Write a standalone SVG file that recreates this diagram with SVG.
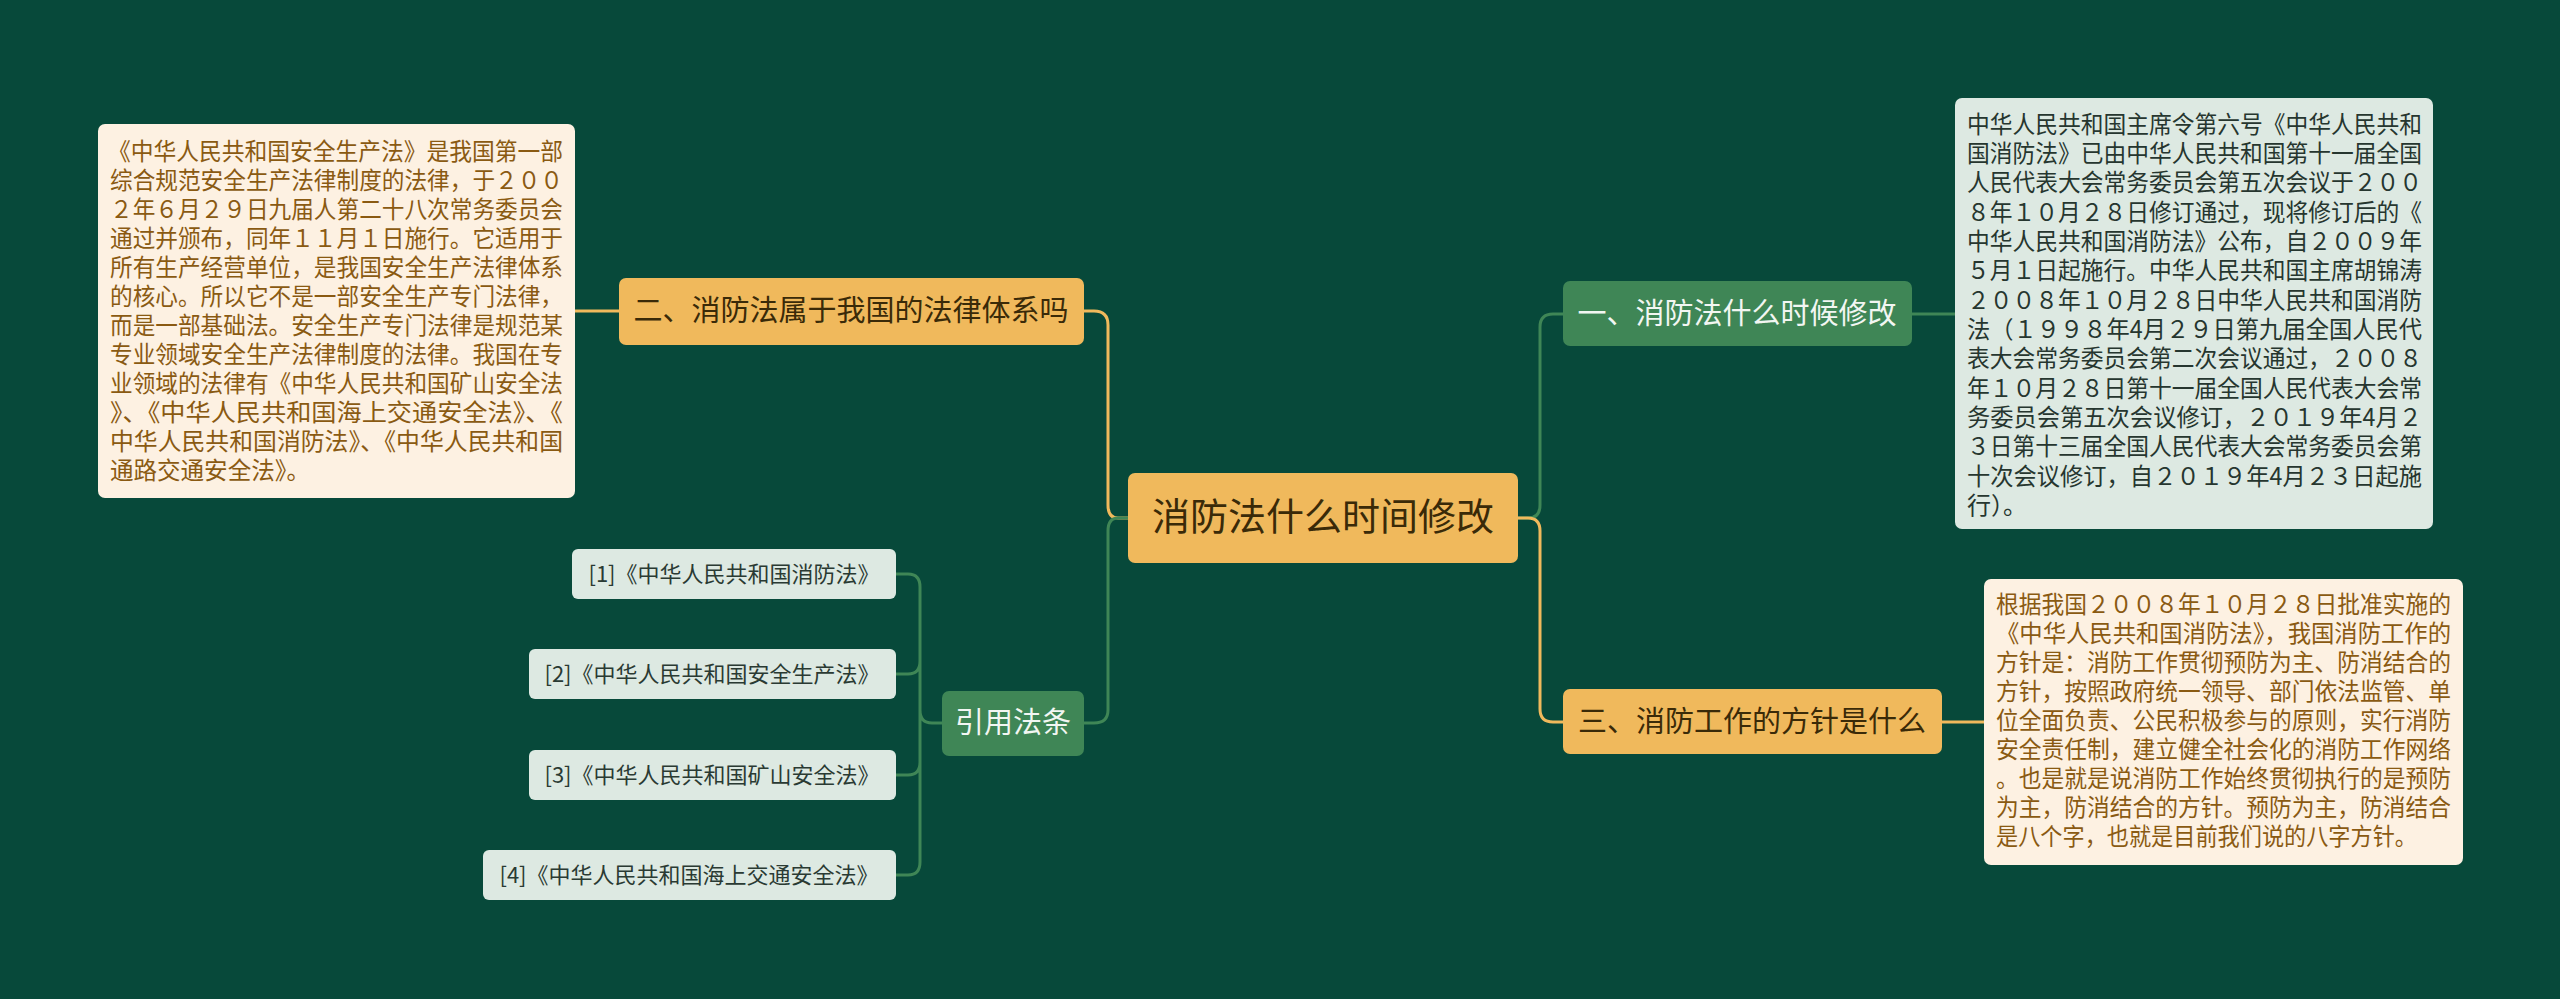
<svg xmlns="http://www.w3.org/2000/svg" width="2560" height="999" viewBox="0 0 2560 999">
<style>
text{font-family:"Noto Sans CJK SC","Noto Sans",sans-serif}
.or{fill:#f0b95c}.gr{fill:#3f8656}.lt{fill:#dde9e2}.cr{fill:#fdf1e2}
.bt{font-size:29px}.dk{fill:#3a2a08}.wh{fill:#f2f6f2}
.para{font-size:24px}
.ref{font-size:22px;fill:#2a3a33}
.co{fill:none;stroke-width:3}
</style>
<rect width="2560" height="999" fill="#07493a"/>
<g id="connectors">
<path class="co" stroke="#f0b95c" d="M1128 518 H1118 Q1108 518 1108 505 V325 Q1108 311 1094 311 H1084"/>
<path class="co" stroke="#3f8656" d="M1128 518 H1118 Q1108 518 1108 531 V710 Q1108 723 1094 723 H1084"/>
<path class="co" stroke="#3f8656" d="M1518 518 H1528 Q1540 518 1540 505 V327 Q1540 314 1553 314 H1563"/>
<path class="co" stroke="#f0b95c" d="M1518 518 H1528 Q1540 518 1540 531 V709 Q1540 722 1553 722 H1563"/>
<path class="co" stroke="#f0b95c" d="M619 311 H575"/>
<path class="co" stroke="#3f8656" d="M1912 314 H1955"/>
<path class="co" stroke="#f0b95c" d="M1942 722 H1984"/>
<path class="co" stroke="#3f8656" d="M942 723 H932 Q920 723 920 710 V587 Q920 574 908 574 H896 M920 600 V661 Q920 674 908 674 H896 M920 700 V762 Q920 775 908 775 H896 M920 760 V862 Q920 875 908 875 H896"/>
</g>
<g id="center"><rect x="1128" y="473" width="390" height="90" rx="7" class="or"/><text x="1323" y="530" font-size="38" text-anchor="middle" class="dk">消防法什么时间修改</text></g>
<g id="b2"><rect x="619" y="278" width="465" height="67" rx="7" class="or"/><text x="851" y="321" text-anchor="middle" class="bt dk">二、消防法属于我国的法律体系吗</text></g>
<g id="bref"><rect x="942" y="691" width="142" height="65" rx="7" class="gr"/><text x="1013" y="733" text-anchor="middle" class="bt wh">引用法条</text></g>
<g id="b1"><rect x="1563" y="281" width="349" height="65" rx="7" class="gr"/><text x="1737" y="324" text-anchor="middle" class="bt wh">一、消防法什么时候修改</text></g>
<g id="b3"><rect x="1563" y="689" width="379" height="65" rx="7" class="or"/><text x="1752" y="732" text-anchor="middle" class="bt dk">三、消防工作的方针是什么</text></g>
<g id="leftbox"><rect x="98" y="124" width="477" height="374" rx="7" class="cr"/>
<g class="para" fill="#8a5a12">
<text x="108" y="160" textLength="455" lengthAdjust="spacingAndGlyphs">《中华人民共和国安全生产法》是我国第一部</text>
<text x="110" y="189" textLength="453" lengthAdjust="spacingAndGlyphs">综合规范安全生产法律制度的法律，于２００</text>
<text x="110" y="218" textLength="453" lengthAdjust="spacingAndGlyphs">２年６月２９日九届人第二十八次常务委员会</text>
<text x="110" y="247" textLength="453" lengthAdjust="spacingAndGlyphs">通过并颁布，同年１１月１日施行。它适用于</text>
<text x="110" y="276" textLength="453" lengthAdjust="spacingAndGlyphs">所有生产经营单位，是我国安全生产法律体系</text>
<text x="110" y="305" textLength="453" lengthAdjust="spacingAndGlyphs">的核心。所以它不是一部安全生产专门法律，</text>
<text x="110" y="334" textLength="453" lengthAdjust="spacingAndGlyphs">而是一部基础法。安全生产专门法律是规范某</text>
<text x="110" y="363" textLength="453" lengthAdjust="spacingAndGlyphs">专业领域安全生产法律制度的法律。我国在专</text>
<text x="110" y="392" textLength="453" lengthAdjust="spacingAndGlyphs">业领域的法律有《中华人民共和国矿山安全法</text>
<text x="110" y="421" textLength="453" lengthAdjust="spacingAndGlyphs">》、《中华人民共和国海上交通安全法》、《</text>
<text x="110" y="450" textLength="453" lengthAdjust="spacingAndGlyphs">中华人民共和国消防法》、《中华人民共和国</text>
<text x="110" y="479" textLength="200" lengthAdjust="spacingAndGlyphs">通路交通安全法》。</text>
</g></g>
<g id="rtbox"><rect x="1955" y="98" width="478" height="431" rx="7" class="lt"/>
<g class="para" fill="#26362f">
<text x="1967" y="133" textLength="455" lengthAdjust="spacingAndGlyphs">中华人民共和国主席令第六号《中华人民共和</text>
<text x="1967" y="162" textLength="455" lengthAdjust="spacingAndGlyphs">国消防法》已由中华人民共和国第十一届全国</text>
<text x="1967" y="191" textLength="455" lengthAdjust="spacingAndGlyphs">人民代表大会常务委员会第五次会议于２００</text>
<text x="1967" y="221" textLength="455" lengthAdjust="spacingAndGlyphs">８年１０月２８日修订通过，现将修订后的《</text>
<text x="1967" y="250" textLength="455" lengthAdjust="spacingAndGlyphs">中华人民共和国消防法》公布，自２００９年</text>
<text x="1967" y="279" textLength="455" lengthAdjust="spacingAndGlyphs">５月１日起施行。中华人民共和国主席胡锦涛</text>
<text x="1967" y="309" textLength="455" lengthAdjust="spacingAndGlyphs">２００８年１０月２８日中华人民共和国消防</text>
<text x="1967" y="338" textLength="455" lengthAdjust="spacingAndGlyphs">法（１９９８年4月２９日第九届全国人民代</text>
<text x="1967" y="367" textLength="455" lengthAdjust="spacingAndGlyphs">表大会常务委员会第二次会议通过，２００８</text>
<text x="1967" y="397" textLength="455" lengthAdjust="spacingAndGlyphs">年１０月２８日第十一届全国人民代表大会常</text>
<text x="1967" y="426" textLength="455" lengthAdjust="spacingAndGlyphs">务委员会第五次会议修订，２０１９年4月２</text>
<text x="1967" y="455" textLength="455" lengthAdjust="spacingAndGlyphs">３日第十三届全国人民代表大会常务委员会第</text>
<text x="1967" y="485" textLength="455" lengthAdjust="spacingAndGlyphs">十次会议修订，自２０１９年4月２３日起施</text>
<text x="1967" y="514" textLength="60" lengthAdjust="spacingAndGlyphs">行）。</text>
</g></g>
<g id="rbbox"><rect x="1984" y="579" width="479" height="286" rx="7" class="cr"/>
<g class="para" fill="#8a5a12">
<text x="1996" y="613" textLength="455" lengthAdjust="spacingAndGlyphs">根据我国２００８年１０月２８日批准实施的</text>
<text x="1996" y="642" textLength="455" lengthAdjust="spacingAndGlyphs">《中华人民共和国消防法》，我国消防工作的</text>
<text x="1996" y="671" textLength="455" lengthAdjust="spacingAndGlyphs">方针是：消防工作贯彻预防为主、防消结合的</text>
<text x="1996" y="700" textLength="455" lengthAdjust="spacingAndGlyphs">方针，按照政府统一领导、部门依法监管、单</text>
<text x="1996" y="729" textLength="455" lengthAdjust="spacingAndGlyphs">位全面负责、公民积极参与的原则，实行消防</text>
<text x="1996" y="758" textLength="455" lengthAdjust="spacingAndGlyphs">安全责任制，建立健全社会化的消防工作网络</text>
<text x="1996" y="787" textLength="455" lengthAdjust="spacingAndGlyphs">。也是就是说消防工作始终贯彻执行的是预防</text>
<text x="1996" y="816" textLength="455" lengthAdjust="spacingAndGlyphs">为主，防消结合的方针。预防为主，防消结合</text>
<text x="1996" y="845" textLength="421" lengthAdjust="spacingAndGlyphs">是八个字，也就是目前我们说的八字方针。</text>
</g></g>
<g id="ref1"><rect x="572" y="549" width="324" height="50" rx="6" class="lt"/><text x="734" y="582" text-anchor="middle" class="ref">[1]《中华人民共和国消防法》</text></g>
<g id="ref2"><rect x="529" y="649" width="367" height="50" rx="6" class="lt"/><text x="712" y="682" text-anchor="middle" class="ref">[2]《中华人民共和国安全生产法》</text></g>
<g id="ref3"><rect x="529" y="750" width="367" height="50" rx="6" class="lt"/><text x="712" y="783" text-anchor="middle" class="ref">[3]《中华人民共和国矿山安全法》</text></g>
<g id="ref4"><rect x="483" y="850" width="413" height="50" rx="6" class="lt"/><text x="689" y="883" text-anchor="middle" class="ref">[4]《中华人民共和国海上交通安全法》</text></g>
</svg>
